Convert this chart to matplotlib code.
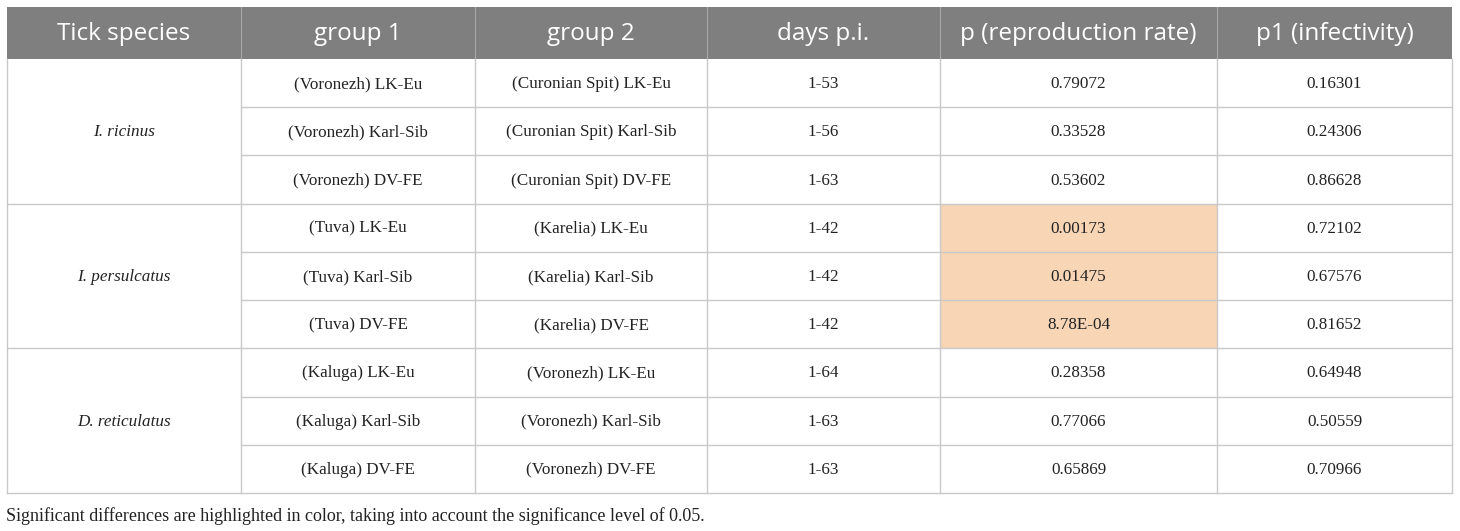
import matplotlib.pyplot as plt
from matplotlib.patches import Rectangle

# Table content
headers = ["Tick species", "group 1", "group 2", "days p.i.", "p (reproduction rate)", "p1 (infectivity)"]
species = ["I. ricinus", "I. persulcatus", "D. reticulatus"]
group1 = [
    "(Voronezh) LK-Eu", "(Voronezh) Karl-Sib", "(Voronezh) DV-FE",
    "(Tuva) LK-Eu", "(Tuva) Karl-Sib", "(Tuva) DV-FE",
    "(Kaluga) LK-Eu", "(Kaluga) Karl-Sib", "(Kaluga) DV-FE",
]
group2 = [
    "(Curonian Spit) LK-Eu", "(Curonian Spit) Karl-Sib", "(Curonian Spit) DV-FE",
    "(Karelia) LK-Eu", "(Karelia) Karl-Sib", "(Karelia) DV-FE",
    "(Voronezh) LK-Eu", "(Voronezh) Karl-Sib", "(Voronezh) DV-FE",
]
days = ["1-53", "1-56", "1-63", "1-42", "1-42", "1-42", "1-64", "1-63", "1-63"]
p_rate = ["0.79072", "0.33528", "0.53602", "0.00173", "0.01475", "8.78E-04",
          "0.28358", "0.77066", "0.65869"]
p1_inf = ["0.16301", "0.24306", "0.86628", "0.72102", "0.67576", "0.81652",
          "0.64948", "0.50559", "0.70966"]
significant = [False, False, False, True, True, True, False, False, False]
caption = "Significant differences are highlighted in color, taking into account the significance level of 0.05."

# Layout (pixels)
col_edges = [7, 241, 475, 707, 940, 1217, 1452]
head_top, head_bot = 7, 59
table_bot = 493
grid_col = "#c9c9c9"
head_col = "#7f7f7f"
hi_col = "#f8d5b5"

fig = plt.figure(figsize=(14.6, 5.31), dpi=100)
ax = fig.add_axes([0, 0, 1, 1])
ax.set_xlim(0, 1460)
ax.set_ylim(531, 0)
ax.axis("off")

serif = ["Liberation Serif", "DejaVu Serif"]
sans = ["Open Sans", "DejaVu Sans"]

n = len(group1)
row_h = (table_bot - head_bot) / n

# header
ax.add_patch(Rectangle((col_edges[0], head_top), col_edges[-1] - col_edges[0],
                       head_bot - head_top, facecolor=head_col, edgecolor="none"))
for i, h in enumerate(headers):
    cx = (col_edges[i] + col_edges[i + 1]) / 2
    ax.text(cx, (head_top + head_bot) / 2 + 1, h, ha="center", va="center",
            color="white", fontsize=17.5, family=sans)
for x in col_edges[1:-1]:
    ax.plot([x, x], [head_top, head_bot], color="#a8a8a8", lw=0.8)

# highlighted cells
for r in range(n):
    if significant[r]:
        y0 = head_bot + r * row_h
        ax.add_patch(Rectangle((col_edges[4], y0), col_edges[5] - col_edges[4], row_h,
                               facecolor=hi_col, edgecolor="none"))

# row texts
for r in range(n):
    cy = head_bot + (r + 0.5) * row_h + 1
    vals = [group1[r], group2[r], days[r], p_rate[r], p1_inf[r]]
    for c, v in enumerate(vals, start=1):
        cx = (col_edges[c] + col_edges[c + 1]) / 2
        ax.text(cx, cy, v, ha="center", va="center", color="#222222",
                fontsize=12.3, family=serif)

# species (merged cells)
for s, name in enumerate(species):
    cy = head_bot + (3 * s + 1.5) * row_h + 1
    ax.text((col_edges[0] + col_edges[1]) / 2, cy, name, ha="center", va="center",
            color="#222222", fontsize=12.3, style="italic", family=serif)

# grid lines
lw = 1.0
for r in range(1, n):
    y = head_bot + r * row_h
    x0 = col_edges[0] if r % 3 == 0 else col_edges[1]
    ax.plot([x0, col_edges[-1]], [y, y], color=grid_col, lw=lw)
ax.plot([col_edges[0], col_edges[-1]], [table_bot, table_bot], color=grid_col, lw=lw)
for x in col_edges:
    ax.plot([x, x], [head_bot, table_bot], color=grid_col, lw=lw)

ax.text(col_edges[0] - 1, 516, caption, ha="left", va="center", color="#222222",
        fontsize=13, family=serif)

fig.savefig("out.png", dpi=100)
